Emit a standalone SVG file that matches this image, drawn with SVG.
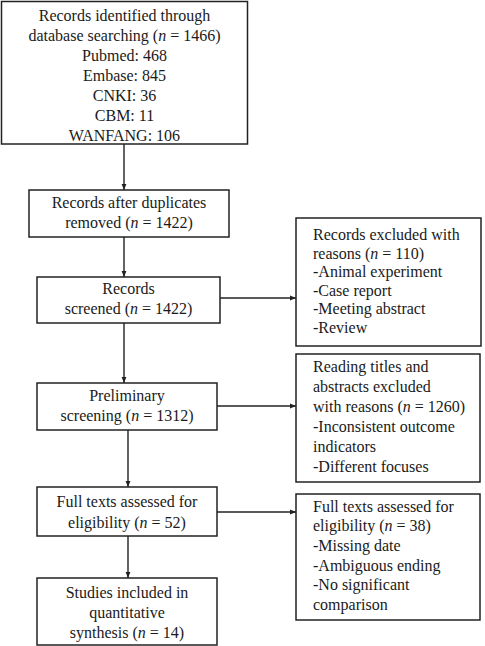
<svg xmlns="http://www.w3.org/2000/svg" width="485" height="646" viewBox="0 0 485 646">
<style>
rect{fill:#fff;stroke:#222;stroke-width:1.5}
text{font-family:"Liberation Serif","Times New Roman",serif;font-size:16px;fill:#1a1a1a}
.c{text-anchor:middle}
.con line{stroke:#222;stroke-width:1.4;marker-end:url(#ah)}
</style>
<defs>
<marker id="ah" viewBox="0 0 10 10" refX="10" refY="5" markerWidth="6" markerHeight="6" markerUnits="userSpaceOnUse" orient="auto">
<path d="M0,1 L10,5 L0,9 z" fill="#222"/>
</marker>
</defs>
<rect x="0" y="-1" width="485" height="648" style="fill:#fff;stroke:none"/>
<g class="con">
<line x1="124" y1="144" x2="124" y2="190"/>
<line x1="124" y1="237" x2="124" y2="277"/>
<line x1="124" y1="323" x2="124" y2="383"/>
<line x1="128" y1="430" x2="128" y2="487"/>
<line x1="128" y1="536" x2="128" y2="578"/>
<line x1="220" y1="298" x2="296" y2="298"/>
<line x1="217" y1="406" x2="296" y2="406"/>
<line x1="217" y1="512" x2="296" y2="512"/>
</g>
<g id="n1">
<rect x="1.5" y="1.5" width="246" height="142.5"/>
<text class="c" x="124.5" y="21">Records identified through</text>
<text class="c" x="124.5" y="41">database searching (<tspan font-style="italic">n</tspan> = 1466)</text>
<text class="c" x="124.5" y="61">Pubmed: 468</text>
<text class="c" x="124.5" y="81">Embase: 845</text>
<text class="c" x="124.5" y="101">CNKI: 36</text>
<text class="c" x="124.5" y="121">CBM: 11</text>
<text class="c" x="124.5" y="141">WANFANG: 106</text>
</g>
<g id="n2">
<rect x="29" y="190" width="200" height="47"/>
<text class="c" x="129" y="208">Records after duplicates</text>
<text class="c" x="129" y="228">removed (<tspan font-style="italic">n</tspan> = 1422)</text>
</g>
<g id="n3">
<rect x="37" y="277" width="183" height="46"/>
<text class="c" x="128.5" y="294">Records</text>
<text class="c" x="128.5" y="314">screened (<tspan font-style="italic">n</tspan> = 1422)</text>
</g>
<g id="n4">
<rect x="37" y="383" width="180" height="47"/>
<text class="c" x="127" y="401">Preliminary</text>
<text class="c" x="127" y="421">screening (<tspan font-style="italic">n</tspan> = 1312)</text>
</g>
<g id="n5">
<rect x="37" y="487" width="180" height="49"/>
<text class="c" x="127" y="507">Full texts assessed for</text>
<text class="c" x="127" y="528">eligibility (<tspan font-style="italic">n</tspan> = 52)</text>
</g>
<g id="n6">
<rect x="37" y="578" width="180" height="67"/>
<text class="c" x="127" y="598">Studies included in</text>
<text class="c" x="127" y="618">quantitative</text>
<text class="c" x="127" y="638">synthesis (<tspan font-style="italic">n</tspan> = 14)</text>
</g>
<g id="r1">
<rect x="296" y="218" width="185" height="128"/>
<text x="313" y="240">Records excluded with</text>
<text x="313" y="258.5">reasons (<tspan font-style="italic">n</tspan> = 110)</text>
<text x="313" y="277">-Animal experiment</text>
<text x="313" y="295.5">-Case report</text>
<text x="313" y="314">-Meeting abstract</text>
<text x="313" y="332.5">-Review</text>
</g>
<g id="r2">
<rect x="296" y="354" width="184" height="128"/>
<text x="313" y="372">Reading titles and</text>
<text x="313" y="392">abstracts excluded</text>
<text x="313" y="412">with reasons (<tspan font-style="italic">n</tspan> = 1260)</text>
<text x="313" y="432">-Inconsistent outcome</text>
<text x="313" y="452">indicators</text>
<text x="313" y="472">-Different focuses</text>
</g>
<g id="r3">
<rect x="296" y="494" width="184" height="126"/>
<text x="313" y="512">Full texts assessed for</text>
<text x="313" y="531">eligibility (<tspan font-style="italic">n</tspan> = 38)</text>
<text x="313" y="551">-Missing date</text>
<text x="313" y="571">-Ambiguous ending</text>
<text x="313" y="590">-No significant</text>
<text x="313" y="610">comparison</text>
</g>
</svg>
